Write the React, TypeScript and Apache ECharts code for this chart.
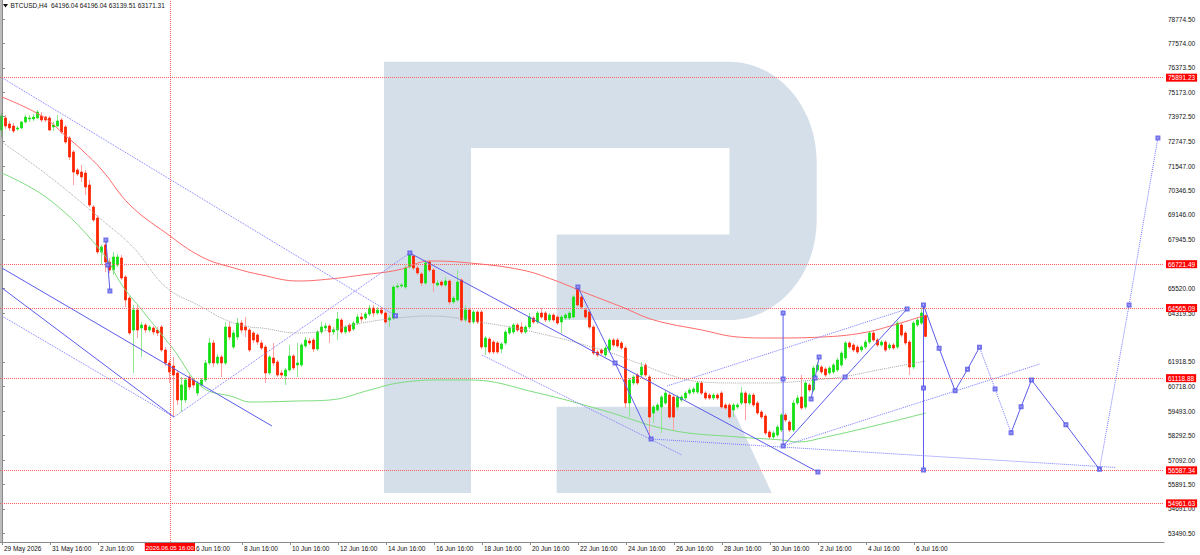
import React, { useEffect, useRef } from "react";
import * as echarts from "echarts";

// ---------- DATA ----------
// H4 candles: [open, high, low, close]
const candles: number[][] = [
  [73318,74154,72974,74006],[73908,74056,73367,73515],[73613,73761,73269,73417],[73515,73662,73171,73269],
  [73367,73515,73269,73417],[73417,73761,73367,73711],[73711,74056,73662,73957],[73859,74056,73711,73908],
  [73859,74105,73761,73957],[73908,74301,73859,74203],[74006,74203,73711,73810],[73957,74006,73711,73810],
  [73908,74006,73269,73318],[73466,73711,73269,73564],[73515,74056,73466,73761],[73810,73908,73122,73220],
  [73466,73564,72630,72728],[72925,73023,71843,71991],[72237,72335,70614,71253],[71352,71450,71057,71155],
  [71253,71597,70762,71008],[71204,71352,70123,70516],[70614,70860,69533,69631],[69533,69631,68795,68894],
  [68992,69139,67222,67321],[67321,67665,66682,67567],[67665,67911,66337,66829],[66829,67026,66288,66436],
  [66436,67321,66190,67075],[66682,67222,66583,67075],[67026,67173,65944,66042],[66091,66190,64617,64961],
  [65059,65158,63240,63338],[63485,64715,61372,64469],[64469,64715,63092,63485],[63584,63879,62159,63731],
  [63731,63830,63338,63485],[63485,63731,63387,63633],[63584,63682,63240,63387],[63485,63633,63190,63338],
  [63633,63731,62405,62503],[62503,62650,61716,61864],[61864,62011,60880,61421],[61716,62159,59209,61274],
  [61372,61520,59799,60045],[60045,61175,59455,60782],[60045,61126,59897,61028],[61175,61274,60536,60683],
  [61028,61126,60634,60782],[60388,60979,60241,60880],[60782,61126,60683,61028],[61028,62011,60930,61864],
  [61864,63092,61765,62847],[62847,62994,61667,61864],[61864,62306,61765,62159],[62159,62257,61175,61864],
  [61864,63879,61765,63633],[63633,63879,62994,63141],[62650,63485,62552,63338],[63141,64076,62994,63830],
  [63830,63977,63338,63485],[63633,64125,63141,63485],[63485,63584,62405,62503],[63338,63436,62847,62994],
  [63240,63338,62749,62896],[62847,62994,62503,62601],[62650,62749,60880,61372],[61372,62257,61274,62159],
  [62110,62847,61716,61864],[61913,62011,61175,61274],[61372,61520,61126,61274],[61225,61618,60782,61520],
  [61520,62749,61421,62208],[62208,62306,61520,61618],[61765,62847,61175,61864],[61765,62847,61667,62749],
  [62699,63141,62601,62994],[62945,63092,62749,62847],[62994,63092,62405,62552],[62552,63485,62454,63387],
  [63387,63879,63289,63633],[63584,63830,63485,63682],[63682,63781,62847,63387],[63387,63633,63240,63485],
  [63485,64370,62994,64026],[63977,64076,63289,63387],[63387,63731,63289,63633],[63731,63830,63338,63436],
  [63535,63928,63436,63830],[63830,64272,63731,64125],[64125,64321,63879,64026],[64076,64370,63977,64272],
  [64272,64715,64174,64567],[64567,64715,64125,64321],[64321,64617,64223,64469],[64469,64617,64223,64321],
  [64321,64420,63781,63879],[63977,64223,63633,64076],[64076,65698,63977,65600],[65600,65796,65501,65649],
  [65649,65796,65551,65698],[65600,66682,65501,66534],[66583,67271,66485,67173],[67124,67173,66436,66534],
  [66534,66682,66190,66288],[66239,66337,65649,65796],[65796,66927,65698,66780],[66829,66927,66337,66436],
  [66436,66534,65354,65796],[65698,65944,65600,65796],[65846,65944,65600,65698],[65698,66091,65600,65895],
  [65895,65993,64715,64862],[64862,65158,64764,65059],[64961,66436,64862,65846],[65944,66042,63879,63977],
  [63977,64715,63879,64469],[64469,64567,63781,63879],[63879,64469,63781,64370],[64370,64469,63781,63879],
  [64370,64469,62552,62650],[62650,63190,62257,63092],[63043,63141,62306,62405],[62896,62994,62306,62405],
  [62847,62945,62306,62405],[62552,62896,62355,62798],[62847,63485,62749,63387],[63338,63682,63240,63584],
  [63387,63830,63289,63731],[63731,63830,63387,63485],[63633,63879,63289,63387],[63387,63731,63289,63633],
  [63633,64321,63535,64125],[64076,64174,63781,63879],[63879,64420,63781,64321],[64321,64567,64026,64125],
  [64321,64420,63879,63977],[63977,64321,63879,64223],[64223,64321,63879,63977],[64125,64223,63731,63830],
  [63879,64223,63338,64125],[64076,64321,63977,64223],[64076,64420,63977,64321],[64125,65207,64026,65109],
  [65551,65600,64617,64715],[65109,65207,64518,64617],[64469,64567,64026,64125],[64370,64469,63535,63633],
  [63633,63731,62257,62355],[62405,62503,62159,62257],[62503,62601,62257,62355],[62257,62699,62159,62601],
  [62503,63092,62405,62994],[62994,63092,62650,62749],[62994,63092,62601,62699],[62847,62945,62503,62601],
  [62601,62699,59651,59897],[59897,61126,59209,61028],[60880,61274,60782,61175],[61274,61372,60782,60880],
  [61274,61913,61175,61667],[61765,61864,61175,61274],[61175,61274,58127,59209],[59406,59799,58914,59700],
  [59553,59897,59455,59799],[59700,60290,58422,60192],[59897,60536,59799,60388],[60290,60388,59111,59209],
  [60192,60290,58570,59209],[59700,60290,59553,60192],[60045,60290,59946,60192],[60143,60487,60045,60388],
  [60388,60634,60290,60536],[60438,60683,60339,60585],[60438,60979,60339,60880],[60880,60979,60290,60388],
  [60388,60487,60045,60143],[60290,60388,60045,60143],[60143,60388,60045,60290],[60290,60388,60045,60143],
  [60388,60487,59602,59700],[59799,59897,59553,59651],[59799,59897,59111,59209],[59553,59897,59209,59799],
  [59700,59897,59602,59799],[59897,60683,59799,60388],[60388,60487,59062,59897],[59897,60388,59799,60290],
  [60290,60388,59700,59799],[59897,59995,59307,59406],[59455,59553,59111,59209],[59258,59356,58324,58422],
  [58471,58570,58127,58226],[58226,58521,58127,58422],[58324,58816,58226,58717],[58570,59406,58471,59307],
  [59307,59406,58963,59062],[58963,59062,58471,58570],[58570,60045,58471,59897],[59897,60290,59799,60143],
  [60192,61274,59553,59651],[59700,60979,59602,60880],[60782,60880,60438,60536],[60536,61716,60438,61618],
  [61520,61913,61421,61765],[61667,61765,61323,61421],[61569,61667,61175,61274],[61372,61716,61274,61618],
  [61421,61864,61323,61765],[61520,62110,61421,62011],[61765,62454,61667,62355],[62110,62945,62011,62847],
  [62847,62945,62552,62650],[62749,62847,62405,62503],[62650,62749,62306,62405],[62503,62749,62405,62650],
  [62650,62994,62552,62896],[62896,63436,62798,63338],[63338,63485,62896,62994],[62994,63092,62650,62749],
  [62749,62994,62650,62896],[62896,62994,62405,62503],[62601,62847,62503,62749],[62749,62847,62503,62601],
  [62650,63928,62552,63830],[63731,63830,63141,63240],[63338,63436,62749,62847],[62896,62994,61274,61667],
  [61667,63928,61569,63830],[63731,64076,63633,63977],[63830,64567,63731,64321],[64196.04,64196.04,63139.51,63171.31],
];

const symbolName = "BTCUSD,H4";
const xLabelBars = [0, 12, 24, 36, 48, 60, 72, 84, 96, 108, 120, 132, 144, 156, 168, 180, 192, 204, 216, 228];
const xLabels = [
  "29 May 2026", "31 May 16:00", "2 Jun 16:00", "4 Jun 16:00", "6 Jun 16:00", "8 Jun 16:00",
  "10 Jun 16:00", "12 Jun 16:00", "14 Jun 16:00", "16 Jun 16:00", "18 Jun 16:00", "20 Jun 16:00",
  "22 Jun 16:00", "24 Jun 16:00", "26 Jun 16:00", "28 Jun 16:00", "30 Jun 16:00", "2 Jul 16:00",
  "4 Jul 16:00", "6 Jul 16:00",
];
const yTickValues = [
  78774.5, 77574.0, 76373.5, 75173.0, 73972.5, 72747.5, 71547.0, 70346.5, 69146.0, 67945.5,
  65520.0, 64319.5, 61918.5, 60718.0, 59493.0, 58292.5, 57092.0, 55891.5, 54691.0, 53490.5,
];
const levelPrices = [75891.23, 66721.49, 64565.09, 61118.88, 56587.34, 54961.63];
const bidPrice = 63171.31;
const crosshairBar = 42;
const crosshairLabel = "2026.06.05 16:00";

// moving averages: [bar, price]
const maRed = [[0,74940],[10,74006],[16,73023],[20,72335],[25,71352],[32,69631],[41,68256],[50,67075],[58,66534],[65,66190],[74,65895],[82,65993],[90,66190],[99,66436],[107,66878],[117,66780],[130,66436],[138,65944],[146,65305],[155,64617],[163,63977],[175,63485],[184,63141],[192,63092],[205,63141],[215,63338],[223,63731],[231,64223]];
const maGrey = [[0,72728],[12,71008],[25,68894],[33,67517],[41,65600],[50,64617],[56,63977],[62,63633],[65,63584],[74,63338],[82,63485],[90,63830],[99,64076],[107,64174],[121,63830],[134,63338],[150,62503],[159,61864],[167,61274],[175,60930],[184,60880],[192,60880],[203,61028],[210,61175],[219,61520],[231,61962]];
const maGreen = [[0,71204],[12,69877],[25,67321],[30,65698],[35,64469],[43,62503],[50,60683],[58,60192],[62,59946],[74,59995],[82,60045],[92,60536],[99,60880],[109,61028],[117,61028],[134,60388],[150,59553],[167,58570],[184,58226],[195,58078],[199,57980],[206,58226],[219,58816],[231,59406]];

// drawn analysis objects: polylines of [bar, price]
const trendSolid = [
  [[0,66534],[67.5,58767]],
  [[0,65551],[43,59209]],
  [[26,67911],[26.5,66682],[27,65403]],
  [[102,67271],[204,56506]],
  [[144,65600],[153.3,61864],[162.3,58127]],
  [[195.3,64321],[195.3,57784]],
  [[195.3,57784],[210.8,61175],[226.3,64518]],
  [[202.3,60094],[203.3,61126],[204.3,62159]],
  [[230.4,64715],[230.4,56604]],
];
const trendDotted = [
  [[0,75891],[98.4,64190]],
  [[43,59209],[102,67271]],
  [[0,64174],[43,59209]],
  [[120,62257],[170,57341]],
  [[162.3,58127],[278.3,56730]],
  [[166.3,60733],[226.3,64518]],
  [[195.3,57784],[259.5,61815]],
];
const forecastSolid = [
  [[230.4,64715],[234.3,62587],[238.3,60502],[241.4,61554],[244.4,62636]],
  [[252.3,58437],[254.8,59716],[257.4,61028],[266,58831],[274.4,56637]],
];
const forecastDotted = [
  [[244.4,62636],[248.3,60586],[252.3,58437]],
  [[274.4,56637],[281.8,64715],[289,72925]],
];
const markerPoints = [
  [26,67911],[26.5,66682],[27,65403],[98.4,64190],[102,67271],[144,65600],[153.3,61864],[162.3,58127],
  [204,56506],[195.3,64321],[195.3,61077],[195.3,57784],[210.8,61175],[226.3,64518],[202.3,60094],
  [203.3,61126],[204.3,62159],[230.4,64715],[230.4,60635],[230.4,56604],[234.3,62587],[238.3,60502],
  [241.4,61554],[244.4,62636],[248.3,60586],[252.3,58437],[254.8,59716],[257.4,61028],[266,58831],
  [274.4,56637],[281.8,64715],[289,72925],
];

// ---------- LOGO ----------
const LOGO_D =
  "M384 61.7 L729 61.7 C777.4 61.7 816.7 106.5 816.7 161.7 L816.7 220 C816.7 275.2 777.4 320 729 320 " +
  "L556.7 320 L556.7 234.5 L729.5 234.5 L729.5 148 L471 148 L471 493 L384 493 Z " +
  "M556.7 406.7 L731.7 406.7 L771.7 493 L556.7 493 Z";
try {
  echarts.graphic.registerShape("logoR", (echarts.graphic as any).extendPath(LOGO_D, {}));
} catch (e) {
  // ignore
}

const FONT = "Liberation Sans, Arial, sans-serif";
const BLUE = "#5c5cec";
const BLUE_DOT = "#7878ff";
const LEVEL_RED = "#ff5f5f";

export default function App() {
  const ref = useRef<HTMLDivElement>(null);

  useEffect(() => {
    if (!ref.current) return;
    const chart = echarts.init(ref.current, null, { renderer: "svg" });

    const wickData = candles.map((c, i) => [i, c[0], c[3], c[2], c[1]]);
    const bodyData = candles.map((c, i) => [i, c[0], c[3], Math.min(c[0], c[3]), Math.max(c[0], c[3])]);
    const last = candles[candles.length - 1];
    const header = `${symbolName}  ${last.map((v) => v.toFixed(2)).join(" ")}`;
    // the time tag of the crosshair hides the axis label that starts under it
    const visibleXBars = xLabelBars.filter((b) => b <= crosshairBar - 10 || b > crosshairBar);

    const lineSeries = (pts: number[][], color: string, type: string, width = 1) => ({
      type: "line",
      data: pts,
      symbol: "none",
      silent: true,
      animation: false,
      clip: false,
      lineStyle: { color, type, width },
      z: 4,
    });

    const series: any[] = [
      {
        type: "candlestick",
        data: wickData,
        barWidth: 1,
        silent: true,
        itemStyle: {
          color: "#8fe88f", color0: "#ff9f9f", borderColor: "#8fe88f", borderColor0: "#ff9f9f",
          borderColorDoji: "#8fe88f", borderWidth: 1,
        },
        z: 2,
      },
      {
        type: "candlestick",
        data: bodyData,
        barWidth: 2.4,
        silent: true,
        itemStyle: {
          color: "#14e014", color0: "#ff2400", borderColor: "#14e014", borderColor0: "#ff2400",
          borderColorDoji: "#ff2400", borderWidth: 0.8,
        },
        z: 3,
      },
      {
        type: "line",
        data: maRed,
        smooth: 0.4,
        symbol: "none",
        silent: true,
        lineStyle: { color: "#ff6a6a", width: 1 },
        z: 4,
        markLine: {
          silent: true,
          animation: false,
          symbol: ["none", "none"],
          data: [
            ...levelPrices.map((v) => ({
              yAxis: v,
              lineStyle: { color: LEVEL_RED, type: "dotted", width: 1 },
              label: {
                show: true, position: "end", distance: 2, formatter: () => v.toFixed(2),
                backgroundColor: "#ff0000", color: "#ffffff", fontSize: 6.5, fontFamily: FONT,
                padding: [1, 2, 0, 2],
              },
            })),
            {
              yAxis: bidPrice,
              lineStyle: { opacity: 0 },
              label: {
                show: true, position: "end", distance: 2, formatter: () => bidPrice.toFixed(2),
                backgroundColor: "#000000", color: "#ffffff", fontSize: 6.5, fontFamily: FONT,
                padding: [1, 2, 0, 2],
              },
            },
            {
              xAxis: crosshairBar,
              lineStyle: { color: LEVEL_RED, type: "dotted", width: 1 },
              label: {
                show: true, position: "start", distance: 1, formatter: () => crosshairLabel,
                backgroundColor: "#ff0000", color: "#ffffff", fontSize: 6.2, fontFamily: FONT,
                padding: [1, 1, 1, 1],
              },
            },
          ],
        },
      },
      { ...lineSeries(maGrey, "#a8a8a8", "dotted"), smooth: 0.4 },
      { ...lineSeries(maGreen, "#7ddc7d", "solid"), smooth: 0.4 },
      ...trendSolid.map((p) => lineSeries(p, BLUE, "solid")),
      ...trendDotted.map((p) => lineSeries(p, BLUE_DOT, "dotted")),
      ...forecastSolid.map((p) => lineSeries(p, BLUE, "solid")),
      ...forecastDotted.map((p) => lineSeries(p, BLUE_DOT, "dotted")),
      {
        type: "scatter",
        data: markerPoints,
        symbol: "emptyRect",
        symbolSize: 3,
        silent: true,
        clip: false,
        itemStyle: { color: "#5050e6", borderColor: "#5050e6", borderWidth: 0.8 },
        z: 5,
      },
    ];

    chart.setOption({
      animation: false,
      backgroundColor: "#ffffff",
      textStyle: { fontFamily: FONT },
      grid: { left: 0, top: 0, width: 1164, height: 542, show: false },
      xAxis: {
        type: "value",
        min: -0.475,
        max: 290.525,
        axisLine: { show: true, onZero: false, lineStyle: { color: "#8a8a8a", width: 1 } },
        axisTick: { show: true, customValues: xLabelBars, length: 3, lineStyle: { color: "#8a8a8a" } },
        axisLabel: {
          customValues: visibleXBars,
          formatter: (v: number) => {
            const k = xLabelBars.indexOf(Math.round(v));
            return k >= 0 ? xLabels[k] : "";
          },
          align: "left",
          padding: [0, 0, 0, 2],
          margin: 3,
          fontSize: 6.5,
          color: "#111111",
          fontFamily: FONT,
        },
        splitLine: { show: false },
      },
      yAxis: {
        type: "value",
        position: "right",
        min: 53064,
        max: 79709,
        axisLine: { show: true, lineStyle: { color: "#8a8a8a", width: 1 } },
        axisTick: { show: true, customValues: yTickValues, length: 3, lineStyle: { color: "#8a8a8a" } },
        axisLabel: {
          customValues: yTickValues,
          formatter: (v: number) => v.toFixed(2),
          margin: 4,
          fontSize: 6.5,
          color: "#111111",
          fontFamily: FONT,
        },
        splitLine: { show: false },
      },
      graphic: [
        {
          type: "logoR",
          x: 0,
          y: 0,
          silent: true,
          z: -1,
          style: { fill: "#d5dfea" },
        },
        {
          type: "line",
          silent: true,
          z: 10,
          shape: { x1: 1, y1: 0, x2: 1, y2: 542 },
          style: { stroke: "#7a7a7a", lineWidth: 1 },
        },
        {
          type: "polygon",
          silent: true,
          z: 10,
          shape: { points: [[3, 4], [8, 4], [5.5, 7.5]] },
          style: { fill: "#111111" },
        },
        {
          type: "text",
          silent: true,
          z: 10,
          x: 10.5,
          y: 2.2,
          style: { text: header, fontSize: 6.5, fontFamily: FONT, fill: "#111111" },
        },
      ],
      series,
    });

    return () => chart.dispose();
  }, []);

  return (
    <div
      ref={ref}
      style={{ position: "fixed", left: 0, top: 0, width: 1200, height: 555, background: "#fff" }}
    />
  );
}
